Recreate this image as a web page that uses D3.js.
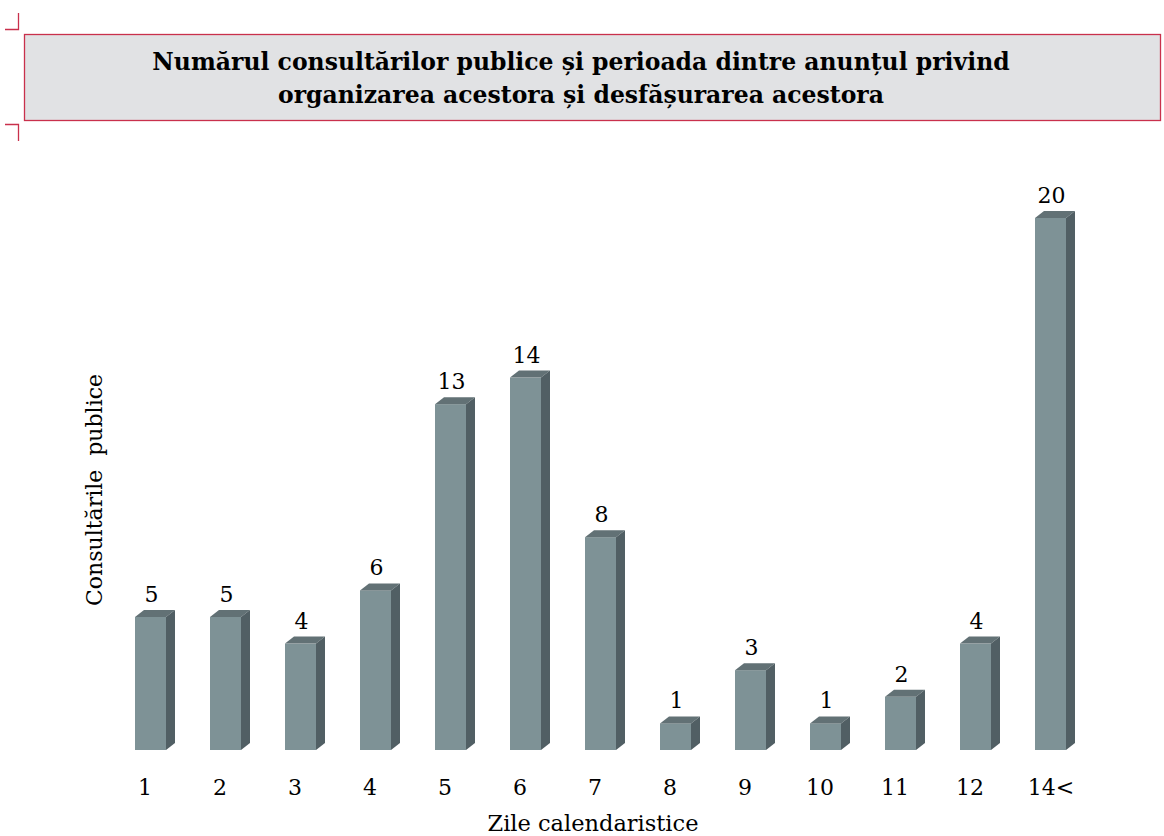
<!DOCTYPE html>
<html>
<head>
<meta charset="utf-8">
<script src="https://cdn.jsdelivr.net/npm/d3@7"></script>
<style>
  body { margin: 0; background: #fff; }
  text { font-family: "DejaVu Serif", "Liberation Serif", serif; fill: #000; }
</style>
</head>
<body>
<svg width="1164" height="836"></svg>
<script>
// Data
var categories = ["1", "2", "3", "4", "5", "6", "7", "8", "9", "10", "11", "12", "14<"];
var values = [5, 5, 4, 6, 13, 14, 8, 1, 3, 1, 2, 4, 20];
var titleLines = ["Numărul consultărilor publice și perioada dintre anunțul privind",
                  "organizarea acestora și desfășurarea acestora"];
var xTitle = "Zile calendaristice";
var yTitle = "Consultările  publice";

var svg = d3.select("svg");

// colours
var frontColor = "#7e9296",
    topColor = "#627175",
    sideColor = "#515f64",
    frameColor = "#c9304c";

// bar geometry
var barWidth = 31,
    depthX = 9,
    depthY = 7;

var x = d3.scalePoint()
    .domain(categories)
    .range([150.5, 1050.5]);

var y = d3.scaleLinear()
    .domain([0, 20])
    .range([750, 218]);

// Title box with the little corner marks
svg.append("rect")
    .attr("x", 24.5).attr("y", 34.5)
    .attr("width", 1136).attr("height", 86)
    .attr("fill", "#e1e2e4")
    .attr("stroke", frameColor)
    .attr("stroke-width", 1.3);

svg.append("path")
    .attr("d", "M5,29.5H18.5V13 M5,124.5H18.5V141")
    .attr("fill", "none")
    .attr("stroke", frameColor)
    .attr("stroke-width", 1.3);

svg.selectAll("text.title")
    .data(titleLines)
    .enter()
    .append("text")
      .attr("class", "title")
      .attr("x", 581)
      .attr("y", function(d, i) { return 70 + i * 33; })
      .attr("text-anchor", "middle")
      .attr("font-size", 23.5)
      .attr("font-weight", "bold")
      .text(function(d) { return d; });

// Bars as little 3D boxes: front, top and side faces
var bars = svg.append("g").selectAll("g.bar")
    .data(values)
    .enter()
    .append("g")
      .attr("class", "bar");

bars.append("rect")
    .attr("x", function(d, i) { return x(categories[i]) - barWidth / 2; })
    .attr("y", function(d) { return y(d); })
    .attr("width", barWidth)
    .attr("height", function(d) { return y(0) - y(d); })
    .attr("fill", frontColor);

bars.append("path")
    .attr("d", function(d, i) {
        var x0 = x(categories[i]) - barWidth / 2, x1 = x0 + barWidth, y0 = y(d);
        return "M" + x0 + "," + y0 + "L" + (x0 + depthX) + "," + (y0 - depthY) +
               "L" + (x1 + depthX) + "," + (y0 - depthY) + "L" + x1 + "," + y0 + "Z";
    })
    .attr("fill", topColor);

bars.append("path")
    .attr("d", function(d, i) {
        var x1 = x(categories[i]) + barWidth / 2, y0 = y(d), yb = y(0);
        return "M" + x1 + "," + y0 + "L" + (x1 + depthX) + "," + (y0 - depthY) +
               "L" + (x1 + depthX) + "," + (yb - depthY) + "L" + x1 + "," + yb + "Z";
    })
    .attr("fill", sideColor);

// value labels over each bar
bars.append("text")
    .attr("x", function(d, i) { return x(categories[i]) + 1; })
    .attr("y", function(d) { return y(d) - depthY - 8; })
    .attr("text-anchor", "middle")
    .attr("font-size", 22)
    .text(function(d) { return d; });

// x axis: only the labels
var xAxis = svg.append("g")
    .attr("transform", "translate(0,795)")
    .call(d3.axisBottom(x).tickSize(0));
xAxis.select(".domain").remove();
xAxis.selectAll("text")
    .attr("font-family", "DejaVu Serif, serif")
    .attr("font-size", 22)
    .attr("fill", "#000")
    .attr("dx", function(d) { return d == "14<" ? 0 : -6; })
    .attr("dy", 0)
    .attr("y", 0);

// axis titles
svg.append("text")
    .attr("x", 593)
    .attr("y", 831)
    .attr("text-anchor", "middle")
    .attr("font-size", 22.5)
    .text(xTitle);

svg.append("text")
    .attr("transform", "translate(102,490) rotate(-90)")
    .attr("text-anchor", "middle")
    .attr("font-size", 22)
    .style("white-space", "pre")
    .text(yTitle);
</script>
</body>
</html>
